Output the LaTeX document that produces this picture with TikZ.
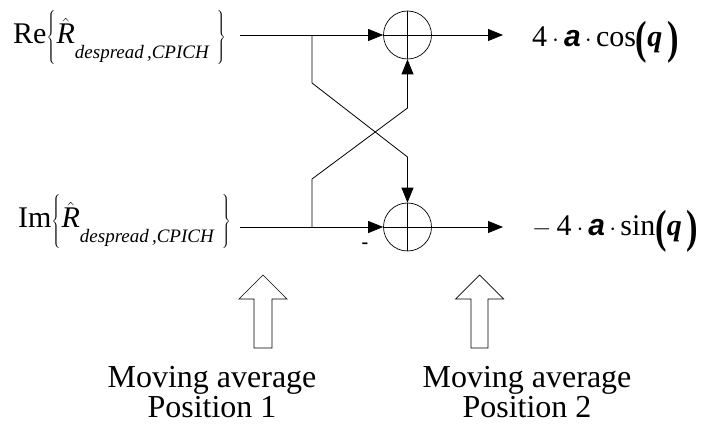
\documentclass[tikz,border=0pt]{standalone}
\usepackage{fontspec}
\usepackage{graphicx}
\setmainfont{Liberation Serif}
\newfontfamily\boldsans{Liberation Sans}
\usetikzlibrary{arrows.meta}

% pieces of the formulas
\newcommand{\bigbrace}[1]{$\left#1\rule[-19.5pt]{0pt}{54pt}\right.$}
\newcommand{\Rhatsym}{$\hat{\mbox{\itshape R}}$}
\newcommand{\despread}{\raisebox{-15pt}{\fontsize{19}{19}\selectfont\itshape despread\,,CPICH}}
\newcommand{\asym}{{\boldsans\bfseries\itshape a}}
\newcommand{\qsym}{{\bfseries\itshape q}}
\newcommand{\lpar}{\raisebox{-0.22em}{\scalebox{1.15}[1.55]{\bfseries(}}}
\newcommand{\rpar}{\raisebox{-0.22em}{\scalebox{1.15}[1.55]{\bfseries)}}}

\tikzset{
  wire/.style={line width=0.8pt, line join=miter},
  flow/.style={wire, -{Triangle[length=15pt,width=12pt]}},
  adder/.style={draw, circle, line width=0.7pt, minimum size=48pt, inner sep=0pt},
  inlabel/.style={anchor=base west, inner sep=0pt, font=\fontsize{30}{30}\selectfont},
  outlabel/.style={anchor=west, inner sep=0pt, font=\fontsize{30}{30}\selectfont},
  caption/.style={anchor=base, inner sep=0pt, align=center,
    font=\fontsize{32}{30}\selectfont},
  hollow/.style={draw, line width=0.7pt, fill=white},
}

\begin{document}
\begin{tikzpicture}[x=1pt, y=-1pt]
\useasboundingbox (0,0) rectangle (701,430);

% input labels
\node[inlabel] (re) at (13,44)
  {Re\bigbrace\{\Rhatsym\despread\hspace{8pt}\bigbrace\}};
\node[inlabel] (im) at (18,228)
  {Im\bigbrace\{\Rhatsym\despread\hspace{8pt}\bigbrace\}};

% adders
\node[adder] (sum1) at (407.5,35) {};
\node[adder] (sum2) at (407.5,227) {};
\draw[wire, line width=0.6pt] (sum1.north) -- (sum1.south) (sum1.west) -- (sum1.east);
\draw[wire, line width=0.6pt] (sum2.north) -- (sum2.south) (sum2.west) -- (sum2.east);

% wiring points
\coordinate (inre) at (240,35);
\coordinate (inim) at (240,227);
\coordinate (tapre) at (312,35);
\coordinate (tapim) at (312,227);
\coordinate (kre1) at (312,83);
\coordinate (kre2) at (407.5,157);
\coordinate (kim1) at (312,179);
\coordinate (kim2) at (407.5,108);
\coordinate (outre) at (503,35);
\coordinate (outim) at (503,227);

\draw[flow] (inre) -- (sum1.west);
\draw[flow] (inim) -- (sum2.west);
\draw[flow] (tapre) -- (kre1) -- (kre2) -- (sum2.north);
\draw[flow] (tapim) -- (kim1) -- (kim2) -- (sum1.south);
\draw[flow] (sum1.east) -- (outre);
\draw[flow] (sum2.east) -- (outim);

\node[inner sep=0pt, font=\fontsize{20}{20}\selectfont\bfseries] (minus) at (365,246) {-};

% outputs
\node[outlabel] (cosout) at (532,42)
  {4\,$\cdot$\,\asym$\,\cdot\,$cos\lpar\qsym\,\rpar};
\node[outlabel] (sinout) at (532,231)
  {$-$\,4\,$\cdot$\,\asym$\,\cdot\,$sin\lpar\qsym\,\rpar};

% moving-average positions
\draw[hollow] (263,275) -- (287,299) -- (272,299) -- (272,348) -- (254,348)
  -- (254,299) -- (239,299) -- cycle;
\draw[hollow] (479.5,275) -- (503.5,299) -- (488,299) -- (488,348) -- (471,348)
  -- (471,299) -- (455.5,299) -- cycle;

\node[caption] (pos1) at (212,417) {Moving average\\Position 1};
\node[caption] (pos2) at (527,417) {Moving average\\Position 2};
\end{tikzpicture}
\end{document}
